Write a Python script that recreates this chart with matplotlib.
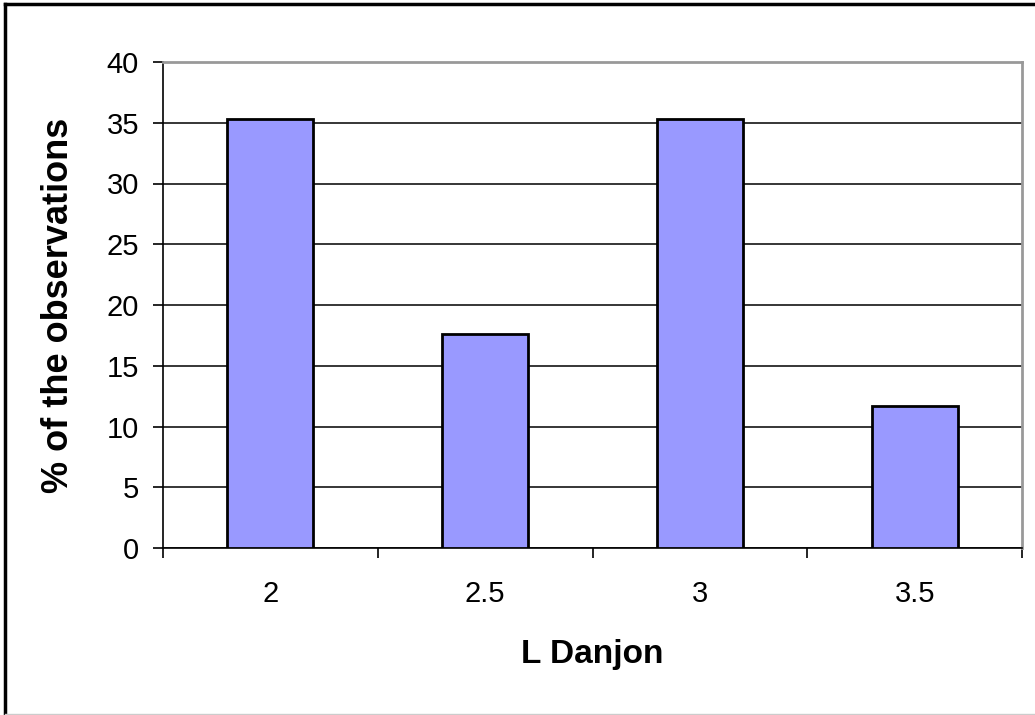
import numpy as np
import matplotlib.pyplot as plt
from matplotlib.lines import Line2D

# Danjon scale values and share of observations (%)
danjon = ["2", "2.5", "3", "3.5"]
percent = [35.3, 17.6, 35.3, 11.7]
yticks = [0, 5, 10, 15, 20, 25, 30, 35, 40]

plt.rcParams['font.family'] = ['Liberation Sans', 'DejaVu Sans']

fig = plt.figure(figsize=(10.35, 7.15), dpi=100)
ax = fig.add_axes([163/1035, 1 - 548/715, 859/1035, 486/715])

x = np.arange(len(danjon))
ax.bar(x, percent, width=0.4, color="#9999ff", edgecolor="black", linewidth=2, zorder=3)

ax.set_xlim(-0.5, len(danjon) - 0.5)
ax.set_ylim(0, 40)
ax.set_yticks(yticks)
ax.set_yticklabels([str(t) for t in yticks], fontsize=21)
ax.set_xticks(x)
ax.set_xticklabels(danjon, fontsize=21)
ax.tick_params(axis="x", length=0, pad=23)
ax.tick_params(axis="y", length=7.2, width=1.2, pad=10, direction="out")

# category boundary ticks below the x axis
ax.set_xticks(np.arange(-0.5, len(danjon)), minor=True)
ax.tick_params(axis="x", which="minor", length=7.2, width=1.2, direction="out")

ax.yaxis.grid(True, color="black", linewidth=1.1, zorder=0)
ax.spines["left"].set_linewidth(1.2)
ax.spines["bottom"].set_linewidth(1.2)
ax.spines["top"].set_color("#999999")
ax.spines["top"].set_linewidth(2)
ax.spines["right"].set_color("#999999")
ax.spines["right"].set_linewidth(2)

ax.set_xlabel("L Danjon", fontsize=24, fontweight="bold", labelpad=22)
ax.set_ylabel("% of the observations", fontsize=26, fontweight="bold", labelpad=22)

# chart area border
fig.add_artist(Line2D([5/1035, 5/1035], [0, 1 - 4/715], color="black", linewidth=2.5))
fig.add_artist(Line2D([5/1035, 1], [1 - 4/715, 1 - 4/715], color="black", linewidth=2.5))
fig.add_artist(Line2D([5/1035, 1], [1/715, 1/715], color="#cccccc", linewidth=1))

fig.savefig("out.png", dpi=100)
